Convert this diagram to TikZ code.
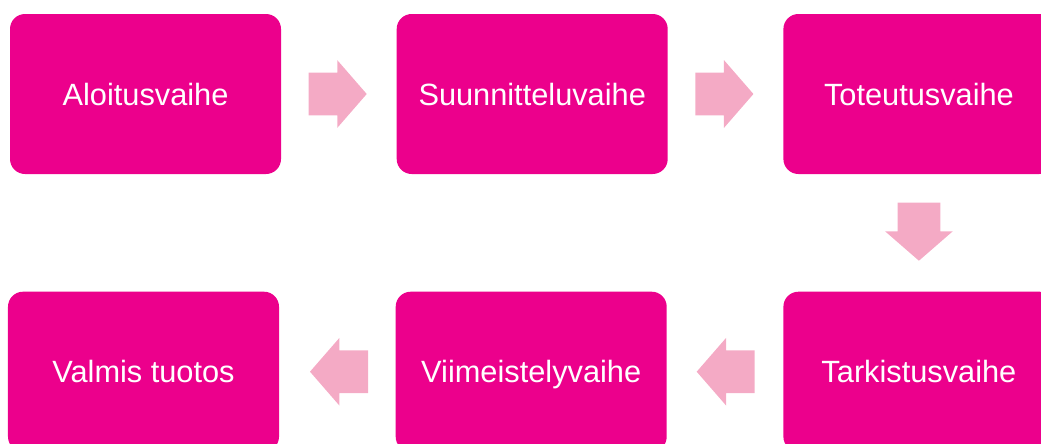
\documentclass[tikz,border=0pt]{standalone}
\usepackage{fontspec}
\setmainfont{Liberation Sans}
\usepackage{xcolor}
\usepackage{tikz}
\usetikzlibrary{positioning}
\usetikzlibrary{shapes.arrows}

\definecolor{phasepink}{RGB}{236,0,140}
\definecolor{arrowpink}{RGB}{244,170,197}

\begin{document}
\begin{tikzpicture}[
        phase/.style={rectangle,rounded corners=0.3cm,fill=phasepink,text=white,
            minimum width=5.42cm,minimum height=3.2cm,inner sep=0pt,
            text height=15pt,text depth=2.4pt,
            font=\fontsize{17.5}{21}\selectfont},
        flow/.style={single arrow,fill=arrowpink,draw=none,
            inner xsep=0pt,inner ysep=0.42cm,
            minimum height=1.16cm,
            single arrow head extend=0.25cm,single arrow tip angle=98}]
        \useasboundingbox (0,0) rectangle (20.82,-8.86);

        \node[phase] at (2.91,-1.88) (S1) {Aloitusvaihe};
        \node[phase,right=2.3cm of S1] (S2) {Suunnitteluvaihe};
        \node[phase,right=2.3cm of S2] (S3) {Toteutusvaihe};

        \node[phase,below=2.34cm of S3] (T3) {Tarkistusvaihe};
        \node[phase,left=2.32cm of T3]  (T2) {Viimeistelyvaihe};
        \node[phase,left=2.32cm of T2]  (T1) {Valmis tuotos};

        \node[flow,right=0.54cm of S1] (R1) {};
        \node[flow,right=0.54cm of S2] (R2) {};
        \node[flow,shape border rotate=270,inner xsep=0.42cm,inner ysep=0pt,
            below=0.56cm of S3] (D1) {};
        \node[flow,shape border rotate=180,left=0.56cm of T3] (L2) {};
        \node[flow,shape border rotate=180,left=0.54cm of T2] (L1) {};

    \end{tikzpicture}
\end{document}
